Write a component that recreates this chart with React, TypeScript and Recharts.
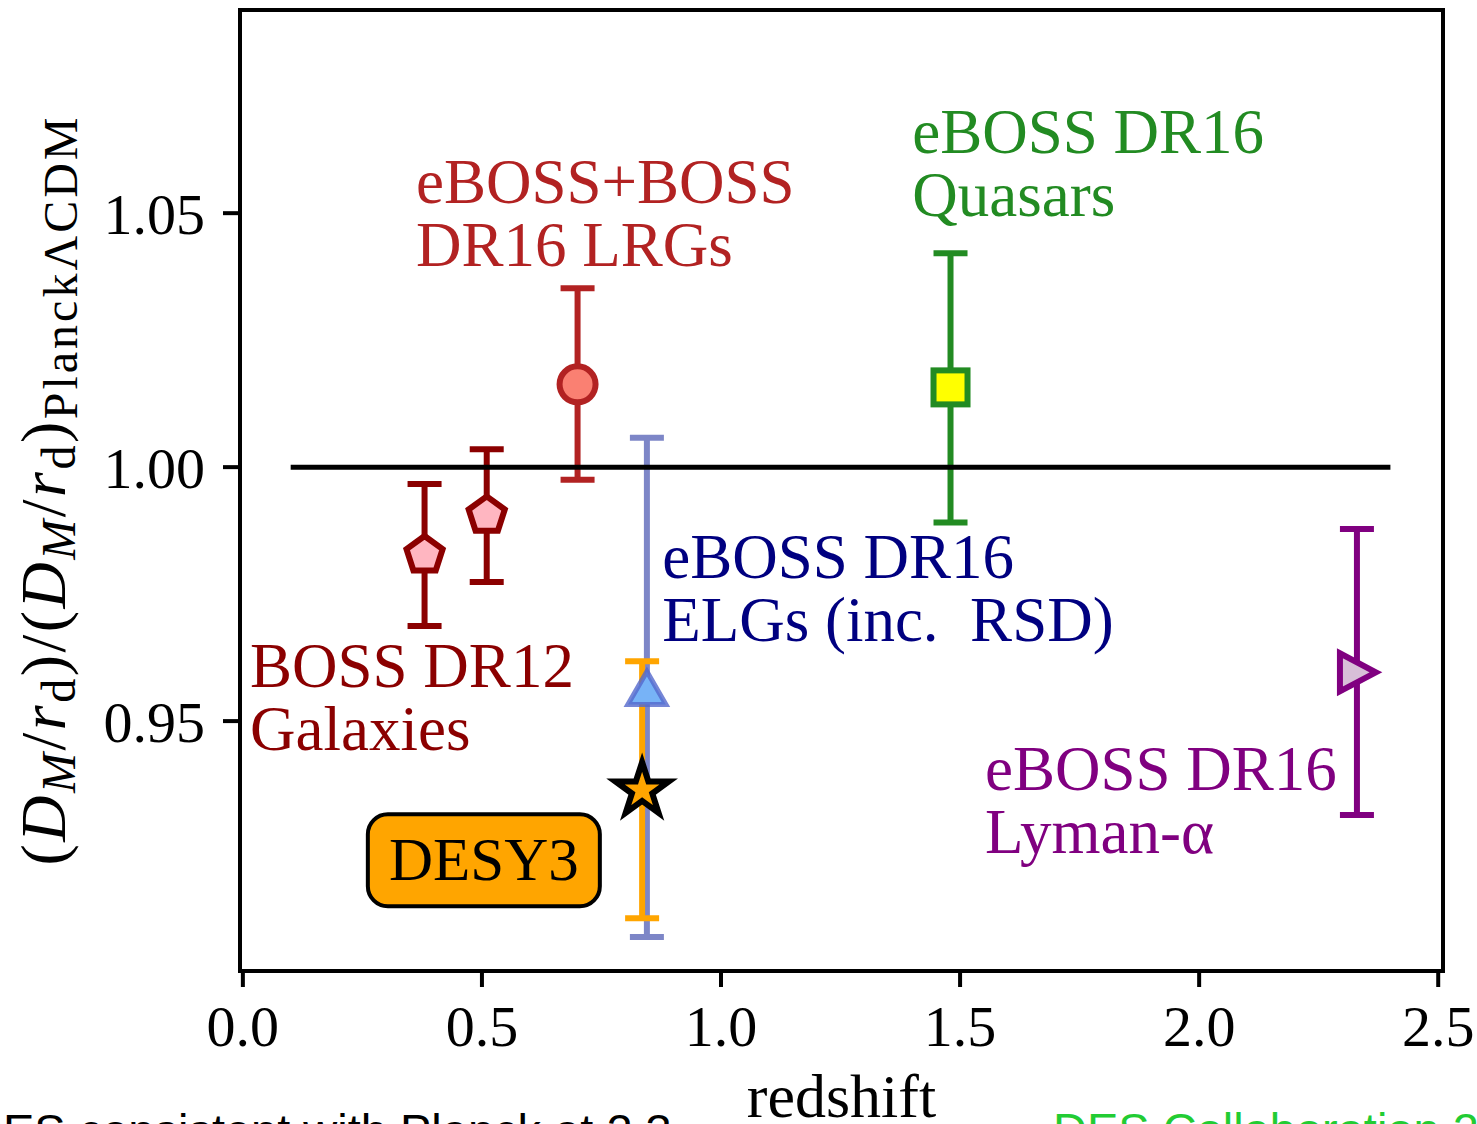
import React from 'react';
import {
  ScatterChart, Scatter, XAxis, YAxis, ErrorBar, ReferenceLine, ReferenceArea,
} from 'recharts';

// measurements: z, ratio, [minus, plus]
const bossDR12 = [
  { z: 0.38, v: 0.9827, err: [0.014, 0.0140] },
  { z: 0.51, v: 0.9905, err: [0.0131, 0.0130] },
];
const lrgDR16 = [{ z: 0.70, v: 1.0163, err: [0.0188, 0.0189] }];
const qsoDR16 = [{ z: 1.48, v: 1.0157, err: [0.0266, 0.0264] }];
const elgDR16 = [{ z: 0.845, v: 0.9564, err: [0.0489, 0.0494] }];
const lyaDR16 = [{ z: 2.33, v: 0.9596, err: [0.0281, 0.0282] }];
const desY3 = [{ z: 0.835, v: 0.9364, err: [0.0252, 0.0254] }];

const planckLine = [{ x: 0.1, y: 1.0 }, { x: 2.4, y: 1.0 }];

const xTicks = [0, 0.5, 1.0, 1.5, 2.0, 2.5];
const yTicks = [0.95, 1.0, 1.05];

const labels = [
  { z: 0.362, v: 1.052, lines: ['eBOSS+BOSS', 'DR16 LRGs'], color: '#b22222' },
  { z: 1.400, v: 1.0618, lines: ['eBOSS DR16', 'Quasars'], color: '#228b22' },
  { z: 0.877, v: 0.9782, lines: ['eBOSS DR16', 'ELGs (inc.  RSD)'], color: '#000080' },
  { z: 0.015, v: 0.9567, lines: ['BOSS DR12', 'Galaxies'], color: '#8b0000' },
  { z: 1.552, v: 0.9364, lines: ['eBOSS DR16', 'Lyman-α'], color: '#800080' },
];
const desBox = [{ z: 0.504, v: 0.9226, text: 'DESY3' }];

const SERIF = '"Liberation Serif", "DejaVu Serif", serif';
const SANS = '"Liberation Sans", Arial, sans-serif';

const pentagon = (p: any) => {
  const r = 19;
  const pts = [0, 1, 2, 3, 4].map(i => {
    const a = (-90 + 72 * i) * Math.PI / 180;
    return `${p.cx + r * Math.cos(a)},${p.cy + r * Math.sin(a)}`;
  }).join(' ');
  return <polygon points={pts} fill="#ffb6c1" stroke="#8b0000" strokeWidth={6} />;
};

const circle = (p: any) => <circle cx={p.cx} cy={p.cy} r={18} fill="#fa8072" stroke="#b22222" strokeWidth={6} />;

const square = (p: any) => <rect x={p.cx - 17} y={p.cy - 17} width={34} height={34} fill="#ffff00" stroke="#228b22" strokeWidth={6} />;

const triUp = (p: any) => (
  <polygon
    points={`${p.cx},${p.cy - 17} ${p.cx - 19},${p.cy + 16} ${p.cx + 19},${p.cy + 16}`}
    fill="#77b3f7" stroke="#5468cc" strokeOpacity={0.8} strokeWidth={5} strokeLinejoin="miter"
  />
);

const triRight = (p: any) => (
  <polygon
    points={`${p.cx + 19},${p.cy} ${p.cx - 17},${p.cy - 19} ${p.cx - 17},${p.cy + 19}`}
    fill="#d8bfd8" stroke="#800080" strokeWidth={6}
  />
);

const star = (p: any) => {
  const R = 28, r = R * 0.382;
  const pts = Array.from({ length: 10 }, (_, i) => {
    const a = (-90 + 36 * i) * Math.PI / 180;
    const rr = i % 2 === 0 ? R : r;
    return `${p.cx + rr * Math.cos(a)},${p.cy + rr * Math.sin(a)}`;
  }).join(' ');
  return <polygon points={pts} fill="#ffa500" stroke="#000" strokeWidth={6} strokeLinejoin="miter" />;
};

const annotation = (p: any) => {
  const d = p.payload ?? p;
  return (
    <text x={p.cx} y={p.cy} fill={d.color} fontSize={63} fontFamily={SERIF} style={{ whiteSpace: 'pre' }}>
      {d.lines.map((l: string, i: number) => (
        <tspan key={i} x={p.cx} dy={i === 0 ? 0 : 63}>{l}</tspan>
      ))}
    </text>
  );
};

const boxLabel = (p: any) => {
  const d = p.payload ?? p;
  return (
    <g>
      <rect x={p.cx - 116} y={p.cy - 46} width={232} height={92} rx={20} fill="#ffa500" stroke="#000" strokeWidth={4} />
      <text x={p.cx} y={p.cy + 20} textAnchor="middle" fontSize={61} fontFamily={SERIF} fill="#000">{d.text}</text>
    </g>
  );
};

const YLabel = (props: any) => {
  const vb = props.viewBox || { x: 0, y: 10, width: 240, height: 961 };
  const cx = vb.x + 65;
  const cy = vb.y + 480;
  const sub = { fontSize: 48 };
  return (
    <text x={cx} y={cy} transform={`rotate(-90, ${cx}, ${cy})`} textAnchor="middle" fontSize={64} fontFamily={SERIF} fill="#000" letterSpacing={2.5}>
      <tspan>(</tspan>
      <tspan fontStyle="italic">D</tspan>
      <tspan fontStyle="italic" {...sub} dy={10}>M</tspan>
      <tspan dy={-10}>/</tspan>
      <tspan fontStyle="italic">r</tspan>
      <tspan {...sub} dy={10}>d</tspan>
      <tspan dy={-10}>)/(</tspan>
      <tspan fontStyle="italic">D</tspan>
      <tspan fontStyle="italic" {...sub} dy={10}>M</tspan>
      <tspan dy={-10}>/</tspan>
      <tspan fontStyle="italic">r</tspan>
      <tspan {...sub} dy={10}>d</tspan>
      <tspan dy={-10}>)</tspan>
      <tspan {...sub} dy={12} letterSpacing={3}>PlanckΛCDM</tspan>
    </text>
  );
};

const XLabel = (props: any) => {
  const vb = props.viewBox || { x: 240, y: 971, width: 1203, height: 153 };
  return (
    <text x={vb.x + vb.width / 2} y={vb.y + 146} textAnchor="middle" fontSize={62} fontFamily={SERIF} fill="#000">
      redshift
    </text>
  );
};

const tickStyle = { fontSize: 58, fontFamily: SERIF, fill: '#000' };

export default function App() {
  return (
    <div style={{ position: 'absolute', left: 0, top: 0, width: 1477, height: 1124, overflow: 'hidden', background: '#fff' }}>
      <div style={{ position: 'absolute', left: -31, top: 1103, fontFamily: SANS, fontSize: 47, color: '#000', whiteSpace: 'nowrap' }}>
        DES consistent with Planck at 2.3
      </div>
      <div style={{ position: 'absolute', left: 1053, top: 1102, fontFamily: SANS, fontSize: 47, color: '#22cc33', whiteSpace: 'nowrap' }}>
        DES Collaboration 2022
      </div>
      <div style={{ position: 'absolute', left: 0, top: 0 }}>
        <ScatterChart width={1477} height={1124} margin={{ top: 10, right: 34, bottom: 0, left: 0 }}>
          <XAxis
            type="number" dataKey="z" domain={[-0.006, 2.51]} ticks={xTicks} allowDataOverflow
            tickFormatter={(t: number) => t.toFixed(1)} height={153}
            axisLine={{ stroke: '#000', strokeWidth: 4 }} tickLine={{ stroke: '#000', strokeWidth: 4 }}
            tickSize={16} tickMargin={18} tick={tickStyle} label={<XLabel />}
          />
          <YAxis
            type="number" dataKey="v" domain={[0.9008, 1.09]} ticks={yTicks} allowDataOverflow
            tickFormatter={(t: number) => t.toFixed(2)} width={240}
            axisLine={{ stroke: '#000', strokeWidth: 4 }} tickLine={{ stroke: '#000', strokeWidth: 4 }}
            tickSize={17} tickMargin={18} tick={tickStyle} label={<YLabel />}
          />
          <ReferenceArea x1={-0.006} x2={2.51} y1={0.9008} y2={1.09} fill="none" stroke="#000" strokeWidth={4} />

          <Scatter data={bossDR12} shape={pentagon} isAnimationActive={false}>
            <ErrorBar dataKey="err" direction="y" width={17} stroke="#8b0000" strokeWidth={6} />
          </Scatter>
          <Scatter data={lrgDR16} shape={circle} isAnimationActive={false}>
            <ErrorBar dataKey="err" direction="y" width={17} stroke="#b22222" strokeWidth={6} />
          </Scatter>
          <Scatter data={qsoDR16} shape={square} isAnimationActive={false}>
            <ErrorBar dataKey="err" direction="y" width={17} stroke="#228b22" strokeWidth={6} />
          </Scatter>
          <Scatter data={lyaDR16} shape={triRight} isAnimationActive={false}>
            <ErrorBar dataKey="err" direction="y" width={17} stroke="#800080" strokeWidth={6} />
          </Scatter>
          <Scatter data={elgDR16} shape={triUp} isAnimationActive={false}>
            <ErrorBar dataKey="err" direction="y" width={17} stroke="#7d86c7" strokeWidth={6} />
          </Scatter>
          <Scatter data={desY3} shape={star} isAnimationActive={false}>
            <ErrorBar dataKey="err" direction="y" width={17} stroke="#ffa500" strokeWidth={6} />
          </Scatter>

          <ReferenceLine segment={planckLine} stroke="#000" strokeWidth={5} />

          <Scatter data={labels} shape={annotation} isAnimationActive={false} />
          <Scatter data={desBox} shape={boxLabel} isAnimationActive={false} />
        </ScatterChart>
      </div>
    </div>
  );
}
